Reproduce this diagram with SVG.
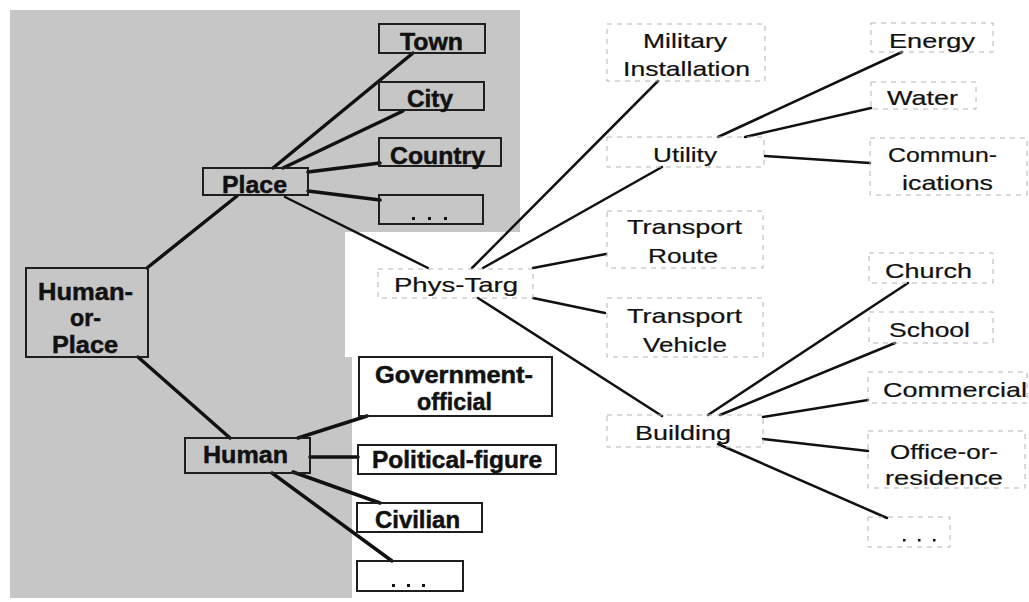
<svg xmlns="http://www.w3.org/2000/svg" width="1029" height="602" viewBox="0 0 1029 602">
<style>
.bg{fill:#c6c6c6}
.lbox{fill:none;stroke:#1e1e1e;stroke-width:2}
.rbox{fill:none;stroke:#b4b4b4;stroke-width:1;stroke-dasharray:5 5}
.lt{font-family:"Liberation Sans",Arial,sans-serif;font-weight:bold;font-size:24px;fill:#111;stroke:#111;stroke-width:0.5}
.rt{font-family:"Liberation Sans",Arial,sans-serif;font-size:21px;fill:#111;stroke:#111;stroke-width:0.2}
.thick{stroke:#111;stroke-width:3.5;fill:none;stroke-linecap:round}
.thin{stroke:#111;stroke-width:2.5;fill:none;stroke-linecap:round}
.dot{fill:#111}
</style>
<rect width="1029" height="602" fill="#fff"/>
<polygon class="bg" points="10,10 520,10 520,232 345,232 345,357 352,357 352,598 10,598"/>

<g id="connectors">
<line class="thick" x1="147" y1="268" x2="237" y2="196"/>
<line class="thick" x1="138" y1="357" x2="230" y2="438"/>
<line class="thick" x1="273" y1="168" x2="413" y2="53"/>
<line class="thick" x1="283" y1="168" x2="403" y2="111"/>
<line class="thick" x1="308" y1="172" x2="380" y2="163"/>
<line class="thick" x1="308" y1="191" x2="380" y2="200"/>
<line class="thin" x1="285" y1="197" x2="428" y2="268"/>
<line class="thick" x1="298" y1="438" x2="367" y2="416"/>
<line class="thick" x1="310" y1="457" x2="358" y2="457"/>
<line class="thick" x1="293" y1="472" x2="380" y2="503"/>
<line class="thick" x1="272" y1="473" x2="392" y2="561"/>
<line class="thin" x1="472" y1="268" x2="658" y2="81"/>
<line class="thin" x1="483" y1="268" x2="662" y2="167"/>
<line class="thin" x1="533" y1="268" x2="606" y2="254"/>
<line class="thin" x1="533" y1="298" x2="605" y2="313"/>
<line class="thin" x1="478" y1="298" x2="662" y2="416"/>
<line class="thin" x1="718" y1="137" x2="902" y2="52"/>
<line class="thin" x1="745" y1="137" x2="871" y2="108"/>
<line class="thin" x1="765" y1="156" x2="870" y2="163"/>
<line class="thin" x1="708" y1="415" x2="908" y2="283"/>
<line class="thin" x1="720" y1="415" x2="895" y2="343"/>
<line class="thin" x1="763" y1="417" x2="868" y2="400"/>
<line class="thin" x1="763" y1="439" x2="868" y2="451"/>
<line class="thin" x1="718" y1="444" x2="887" y2="518"/>
</g>

<g id="human-or-place">
<rect class="lbox" x="26" y="268" width="122" height="89"/>
<text class="lt" x="38" y="300" textLength="95" lengthAdjust="spacingAndGlyphs">Human-</text>
<text class="lt" x="70" y="326" textLength="31" lengthAdjust="spacingAndGlyphs">or-</text>
<text class="lt" x="52" y="353" textLength="66" lengthAdjust="spacingAndGlyphs">Place</text>
</g>
<g id="place">
<rect class="lbox" x="203" y="168" width="105" height="27"/>
<text class="lt" x="222" y="193" textLength="65" lengthAdjust="spacingAndGlyphs">Place</text>
</g>
<g id="town">
<rect class="lbox" x="379" y="24" width="106" height="29"/>
<text class="lt" x="400" y="50" textLength="63" lengthAdjust="spacingAndGlyphs">Town</text>
</g>
<g id="city">
<rect class="lbox" x="379" y="82" width="105" height="28"/>
<text class="lt" x="407" y="107" textLength="46" lengthAdjust="spacingAndGlyphs">City</text>
</g>
<g id="country">
<rect class="lbox" x="379" y="138" width="122" height="28"/>
<text class="lt" x="390" y="164" textLength="95" lengthAdjust="spacingAndGlyphs">Country</text>
</g>
<g id="place-more">
<rect class="lbox" x="379" y="195" width="104" height="29"/>
<rect class="dot" x="412" y="217" width="3" height="3"/>
<rect class="dot" x="428" y="217" width="3" height="3"/>
<rect class="dot" x="444" y="217" width="3" height="3"/>
</g>
<g id="human">
<rect class="lbox" x="185" y="438" width="125" height="35"/>
<text class="lt" x="203" y="463" textLength="85" lengthAdjust="spacingAndGlyphs">Human</text>
</g>
<g id="government-official">
<rect class="lbox" x="359" y="357" width="193" height="59"/>
<text class="lt" x="375" y="383" textLength="158" lengthAdjust="spacingAndGlyphs">Government-</text>
<text class="lt" x="417" y="410" textLength="75" lengthAdjust="spacingAndGlyphs">official</text>
</g>
<g id="political-figure">
<rect class="lbox" x="358" y="445" width="198" height="29"/>
<text class="lt" x="372" y="468" textLength="170" lengthAdjust="spacingAndGlyphs">Political-figure</text>
</g>
<g id="civilian">
<rect class="lbox" x="357" y="503" width="125" height="29"/>
<text class="lt" x="375" y="528" textLength="85" lengthAdjust="spacingAndGlyphs">Civilian</text>
</g>
<g id="human-more">
<rect class="lbox" x="357" y="561" width="106" height="30"/>
<rect class="dot" x="392" y="584" width="3" height="3"/>
<rect class="dot" x="407" y="584" width="3" height="3"/>
<rect class="dot" x="422" y="584" width="3" height="3"/>
</g>

<g id="phys-targ">
<rect class="rbox" x="378" y="269" width="155" height="29"/>
<text class="rt" x="394" y="292" textLength="124" lengthAdjust="spacingAndGlyphs">Phys-Targ</text>
</g>
<g id="military-installation">
<rect class="rbox" x="607" y="24" width="158" height="57"/>
<text class="rt" x="643" y="48" textLength="84" lengthAdjust="spacingAndGlyphs">Military</text>
<text class="rt" x="623" y="76" textLength="127" lengthAdjust="spacingAndGlyphs">Installation</text>
</g>
<g id="utility">
<rect class="rbox" x="607" y="137" width="157" height="30"/>
<text class="rt" x="653" y="162" textLength="64" lengthAdjust="spacingAndGlyphs">Utility</text>
</g>
<g id="transport-route">
<rect class="rbox" x="607" y="211" width="156" height="57"/>
<text class="rt" x="627" y="234" textLength="115" lengthAdjust="spacingAndGlyphs">Transport</text>
<text class="rt" x="648" y="263" textLength="70" lengthAdjust="spacingAndGlyphs">Route</text>
</g>
<g id="transport-vehicle">
<rect class="rbox" x="607" y="298" width="156" height="59"/>
<text class="rt" x="627" y="323" textLength="115" lengthAdjust="spacingAndGlyphs">Transport</text>
<text class="rt" x="643" y="352" textLength="84" lengthAdjust="spacingAndGlyphs">Vehicle</text>
</g>
<g id="building">
<rect class="rbox" x="607" y="415" width="156" height="32"/>
<text class="rt" x="635" y="440" textLength="96" lengthAdjust="spacingAndGlyphs">Building</text>
</g>
<g id="energy">
<rect class="rbox" x="871" y="23" width="122" height="29"/>
<text class="rt" x="889" y="48" textLength="86" lengthAdjust="spacingAndGlyphs">Energy</text>
</g>
<g id="water">
<rect class="rbox" x="871" y="82" width="105" height="27"/>
<text class="rt" x="887" y="105" textLength="71" lengthAdjust="spacingAndGlyphs">Water</text>
</g>
<g id="communications">
<rect class="rbox" x="870" y="138" width="157" height="57"/>
<text class="rt" x="888" y="162" textLength="109" lengthAdjust="spacingAndGlyphs">Commun-</text>
<text class="rt" x="902" y="190" textLength="91" lengthAdjust="spacingAndGlyphs">ications</text>
</g>
<g id="church">
<rect class="rbox" x="869" y="253" width="124" height="30"/>
<text class="rt" x="885" y="278" textLength="87" lengthAdjust="spacingAndGlyphs">Church</text>
</g>
<g id="school">
<rect class="rbox" x="869" y="312" width="124" height="31"/>
<text class="rt" x="889" y="337" textLength="81" lengthAdjust="spacingAndGlyphs">School</text>
</g>
<g id="commercial">
<rect class="rbox" x="868" y="372" width="159" height="31"/>
<text class="rt" x="883" y="397" textLength="144" lengthAdjust="spacingAndGlyphs">Commercial</text>
</g>
<g id="office-or-residence">
<rect class="rbox" x="868" y="431" width="157" height="57"/>
<text class="rt" x="890" y="459" textLength="108" lengthAdjust="spacingAndGlyphs">Office-or-</text>
<text class="rt" x="885" y="485" textLength="118" lengthAdjust="spacingAndGlyphs">residence</text>
</g>
<g id="building-more">
<rect class="rbox" x="868" y="517" width="82" height="30"/>
<rect class="dot" x="903" y="539" width="2.5" height="2.5"/>
<rect class="dot" x="918" y="539" width="2.5" height="2.5"/>
<rect class="dot" x="933" y="539" width="2.5" height="2.5"/>
</g>
</svg>
